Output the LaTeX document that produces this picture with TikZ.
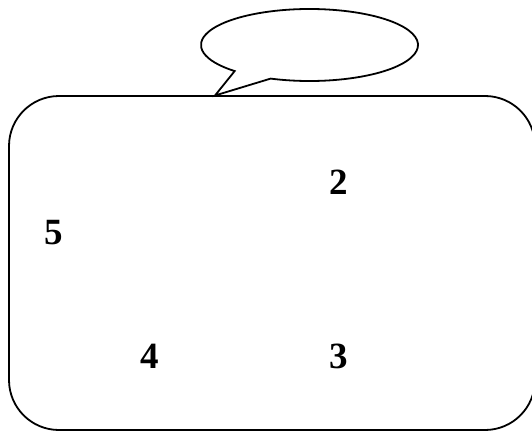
\documentclass[tikz,border=0pt]{standalone}
\usepackage{fontspec}
\setmainfont{Liberation Serif}
\begin{document}
\begin{tikzpicture}[x=1pt,y=1pt,
  outline/.style={draw=black,line width=1.8pt,line join=miter},
  num/.style={font=\fontsize{37}{37}\selectfont\bfseries,anchor=base,inner sep=0pt}]
\useasboundingbox (0,0) rectangle (532,432);
\clip (0,0) rectangle (532,432);
\draw[outline,rounded corners=50pt] (9,2) rectangle (535,336);
\coordinate (tip) at (215,336.5);
\draw[outline,fill=white] (309.5,387) ++(249:108.5 and 36)
  arc[start angle=249,end angle=586.4,x radius=108.5,y radius=36] -- (tip) -- cycle;
\node[num] (n5) at (54,188) {5};
\node[num] (n2) at (338.5,238) {2};
\node[num] (n4) at (150,64) {4};
\node[num] (n3) at (339,64) {3};
\end{tikzpicture}
\end{document}
